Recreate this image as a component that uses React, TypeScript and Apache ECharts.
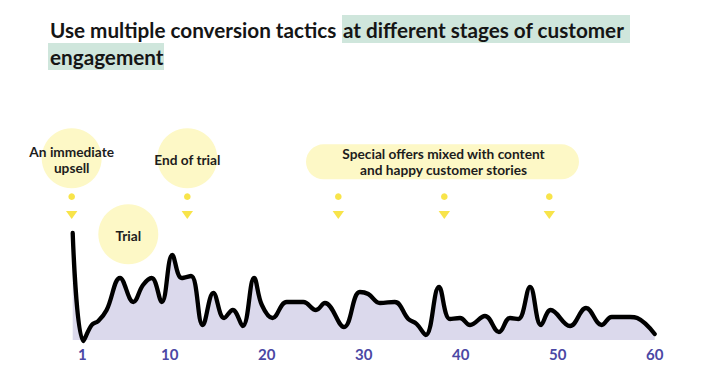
import React, { useEffect, useRef } from "react";
import * as echarts from "echarts";

// Day positions (x) and engagement level (y)
const dayX = [0, 1.09, 1.96, 2.64, 3.5, 4.88, 6.25, 7.25, 8.14, 9.18, 10.27, 11.24, 12.2, 13.4, 14.5, 15.6, 16.5, 17.53, 18.7, 19.5, 20.6, 22.06, 23.77, 25.08, 26.0, 27.97, 29.6, 30.47, 31.68, 33.2, 34.6, 35.46, 36.4, 37.76, 38.9, 39.93, 40.96, 42.5, 43.95, 45.08, 45.94, 47.15, 48.28, 49.28, 51.27, 52.92, 54.54, 55.57, 57.46, 58.2, 60];
const engagement = [107, -1, 15, 19, 30, 62, 38, 55, 62, 38, 85, 62, 64, 15, 47, 22, 30, 14, 62, 35, 22, 38, 38, 30, 37, 13, 48, 46, 37, 38, 21, 16, 5, 53, 21, 22, 15, 24, 8, 22, 21, 53, 15, 30, 14, 32, 15, 23, 23, 22, 6];
const tickDays = [1, 10, 20, 30, 40, 50, 60];

const titleLine1 = "Use multiple conversion tactics";
const titleHighlight1 = "at different stages of customer";
const titleLine2 = "engagement";

const BUBBLE = "#fdf8c6";
const YELLOW = "#f8e44a";
const FONT = "Lato";

export default function App() {
  const ref = useRef<HTMLDivElement>(null);
  useEffect(() => {
    document.body.style.margin = "0";
    const chart = echarts.init(ref.current!, null, { renderer: "svg" });
    const data = dayX.map((x, i) => [x, engagement[i]]);

    const marker = (x: number) => [
      { type: "circle", shape: { cx: x, cy: 196.7, r: 3.3 }, style: { fill: YELLOW } },
      {
        type: "polygon",
        shape: { points: [[x - 5.7, 211], [x + 5.7, 211], [x, 219]] },
        style: { fill: YELLOW },
      },
    ];
    const label = (x: number, y: number, text: string) => ({
      type: "text",
      x,
      y,
      style: {
        text,
        font: `bold 13.7px ${FONT}`,
        fill: "#1d1d1d",
        textAlign: "center",
        textVerticalAlign: "middle",
        lineHeight: 16,
      },
    });
    const titleFont = `bold 20.7px ${FONT}`;

    chart.setOption({
      animation: false,
      grid: { left: 72.7, right: 70.3, top: 220, bottom: 41 },
      xAxis: {
        type: "value",
        min: 0,
        max: 60,
        axisLine: { show: false },
        axisTick: { show: false },
        splitLine: { show: false },
        axisLabel: {
          customValues: tickDays,
          margin: 6,
          color: "#4b48a4",
          fontFamily: FONT,
          fontWeight: "bold",
          fontSize: 15,
          showMinLabel: true,
          showMaxLabel: true,
        },
      },
      yAxis: {
        type: "value",
        min: 0,
        max: 120,
        show: false,
        splitLine: { show: false },
      },
      series: [
        {
          type: "line",
          data,
          smooth: 0.4,
          clip: false,
          symbol: "none",
          lineStyle: { color: "#000", width: 4.3, cap: "round", join: "round" },
          areaStyle: { color: "#dbd9ec", opacity: 1, origin: 0 },
        },
      ],
      graphic: [
        { type: "rect", shape: { x: 342, y: 15, width: 288, height: 28 }, style: { fill: "#cfe6dc" } },
        { type: "rect", shape: { x: 48, y: 43, width: 116, height: 27 }, style: { fill: "#cfe6dc" } },
        {
          type: "text",
          x: 50,
          y: 30,
          style: { text: titleLine1, font: titleFont, fill: "#151515", textVerticalAlign: "middle" },
        },
        {
          type: "text",
          x: 343,
          y: 30,
          style: { text: titleHighlight1, font: titleFont, fill: "#151515", textVerticalAlign: "middle" },
        },
        {
          type: "text",
          x: 50,
          y: 57,
          style: { text: titleLine2, font: titleFont, fill: "#151515", textVerticalAlign: "middle" },
        },
        { type: "circle", shape: { cx: 71.7, cy: 158.3, r: 30 }, style: { fill: BUBBLE } },
        { type: "circle", shape: { cx: 187.3, cy: 158.3, r: 30 }, style: { fill: BUBBLE } },
        { type: "circle", shape: { cx: 128.3, cy: 234.3, r: 30 }, style: { fill: BUBBLE } },
        { type: "rect", shape: { x: 306, y: 144.3, width: 273, height: 35, r: 17.5 }, style: { fill: BUBBLE } },
        label(71.7, 159.2, "An immediate\nupsell"),
        label(187.3, 159.3, "End of trial"),
        label(128.3, 235, "Trial"),
        label(443.5, 161.3, "Special offers mixed with content\nand happy customer stories"),
        ...marker(71.7),
        ...marker(187.3),
        ...marker(338.3),
        ...marker(444.3),
        ...marker(549.3),
      ],
    });
    return () => chart.dispose();
  }, []);
  return <div ref={ref} style={{ width: 725, height: 381 }} />;
}
